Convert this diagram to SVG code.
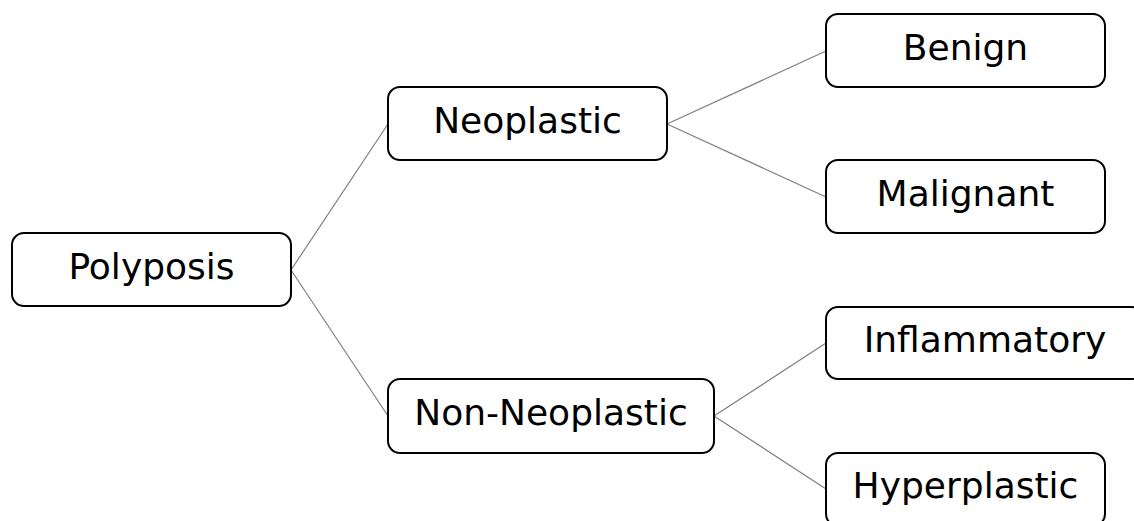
<svg xmlns="http://www.w3.org/2000/svg" width="1134" height="521" viewBox="0 0 1134 521">
<style>
.box{fill:#fff;stroke:#000;stroke-width:2}
.lbl{font-family:"DejaVu Sans",Verdana,sans-serif;font-size:36px;fill:#000;text-anchor:middle}
.conn{stroke:#7f7f7f;stroke-width:1.2;fill:none}
</style>
<rect width="1134" height="521" fill="#fff"/>
<g id="connectors">
<line class="conn" x1="291" y1="270" x2="388" y2="124"/>
<line class="conn" x1="291" y1="270" x2="388" y2="416"/>
<line class="conn" x1="667" y1="124" x2="826" y2="51"/>
<line class="conn" x1="667" y1="124" x2="826" y2="197"/>
<line class="conn" x1="714" y1="416" x2="826" y2="343"/>
<line class="conn" x1="714" y1="416" x2="826" y2="489"/>
</g>
<g id="polyposis"><rect class="box" x="12" y="233" width="279" height="73" rx="12"/><text class="lbl" x="151.5" y="279">Polyposis</text></g>
<g id="neoplastic"><rect class="box" x="388" y="87" width="279" height="73" rx="12"/><text class="lbl" x="527.5" y="133">Neoplastic</text></g>
<g id="non-neoplastic"><rect class="box" x="388" y="379" width="326" height="74" rx="12"/><text class="lbl" x="551" y="425">Non-Neoplastic</text></g>
<g id="benign"><rect class="box" x="826" y="14" width="279" height="73" rx="12"/><text class="lbl" x="965.5" y="60">Benign</text></g>
<g id="malignant"><rect class="box" x="826" y="160" width="279" height="73" rx="12"/><text class="lbl" x="965.5" y="206">Malignant</text></g>
<g id="inflammatory"><rect class="box" x="826" y="307" width="318" height="72" rx="12"/><text class="lbl" x="985" y="352">Inflammatory</text></g>
<g id="hyperplastic"><rect class="box" x="826" y="453" width="279" height="73" rx="12"/><text class="lbl" x="965.5" y="498">Hyperplastic</text></g>
</svg>
